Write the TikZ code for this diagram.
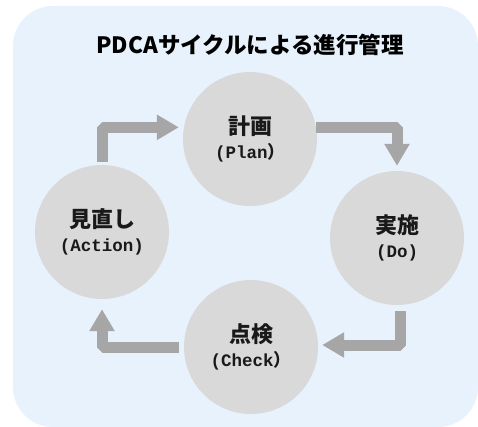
\documentclass[tikz,border=0pt]{standalone}
\usepackage{fontspec}
\newfontfamily\cjk{Noto Sans CJK JP}
\newfontfamily\mono{Liberation Mono}
\usetikzlibrary{arrows.meta}

\definecolor{bgblue}{HTML}{E8F2FD}
\definecolor{ballgray}{HTML}{D9D9D9}
\definecolor{flowgray}{HTML}{A6A6A6}

\newcommand{\en}[1]{{\mono\bfseries\fontsize{17.5}{18}\selectfont #1}}
\newcommand{\fwp}{{\cjk\bfseries\fontsize{17.5}{18}\selectfont ）}}

\tikzset{
  stage/.style={circle, fill=ballgray, minimum size=134pt, inner sep=0pt,
    align=center, text=black!90,
    font=\cjk\bfseries\fontsize{22}{24}\selectfont},
  flow/.style={draw=flowgray, line width=11pt, line join=bevel,
    -{Triangle[length=22pt,width=24pt]}},
}

\begin{document}
\begin{tikzpicture}[x=1pt,y=-1pt]
    \useasboundingbox (0,0) rectangle (478,427);
    % Draw the background panel
    \fill[bgblue, rounded corners=40pt] (13,6) rectangle (478,427);
    % Title
    \node (title) at (250,45) {\cjk\bfseries\fontsize{22.5}{24}\selectfont PDCAサイクルによる進行管理};
    % The four stages
    \node[stage] (plan)  at (250,139) {計画\\\en{(Plan}\fwp};
    \node[stage] (do)    at (397,238) {実施\\\en{(Do)}};
    \node[stage] (check) at (251,347) {点検\\\en{(Check}\fwp};
    \node[stage] (act)   at (102,232) {見直し\\\en{(Action)}};
    % Arrows between the stages
    \draw[flow] ([yshift=3pt]act.north) |- ([xshift=-5pt]plan.170);
    \draw[flow] (plan.10) -| ([yshift=5pt]do.north);
    \draw[flow] ([shift={(3pt,-6pt)}]do.south) |- ([shift={(4pt,2pt)}]check.east);
    \draw[flow] ([xshift=-5pt]check.west) -| ([yshift=-10pt]act.south);
  \end{tikzpicture}
\end{document}
